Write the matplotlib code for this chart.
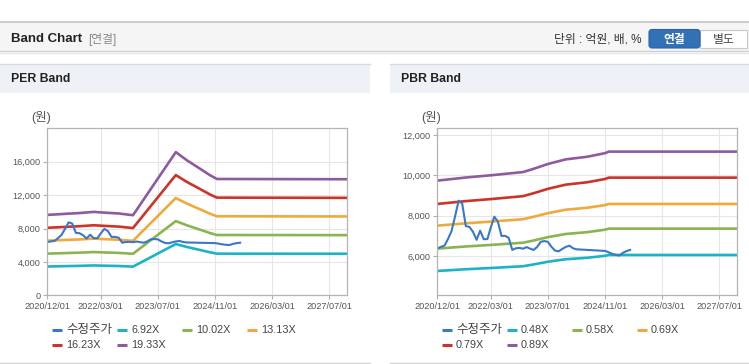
import numpy as np
import pandas as pd
import matplotlib
matplotlib.use('Agg')
import matplotlib.pyplot as plt
import matplotlib.dates as mdates
from matplotlib.patches import Rectangle, FancyBboxPatch
from matplotlib.ticker import FuncFormatter

plt.rcParams['font.family'] = ['Liberation Sans', 'Noto Sans CJK KR', 'DejaVu Sans']

# ---- data ----
price_dates = pd.date_range('2020-12-01', '2025-06-01', freq='MS')
price = [6380, 6450, 6520, 6830, 7230, 7950, 8740, 8600, 7480, 7440, 7200, 6800,
         7255, 6830, 6840, 7400, 7950, 7700, 6990, 7000, 6900, 6300, 6380, 6400,
         6360, 6440, 6360, 6300, 6450, 6700, 6740, 6700, 6450, 6264, 6230, 6350,
         6450, 6510, 6380, 6330, 6320, 6310, 6300, 6290, 6280, 6270, 6260, 6248,
         6180, 6100, 6050, 6017, 6160, 6240, 6300]

per_dates = pd.to_datetime(['2020-12-01', '2021-03-01', '2021-06-01', '2021-09-01',
                            '2022-01-01', '2022-04-01', '2022-08-01', '2022-12-01',
                            '2023-12-01', '2024-03-01', '2024-07-01', '2024-09-15',
                            '2024-11-15', '2027-12-01'])
per_labels = ['6.92X', '10.02X', '13.13X', '16.23X', '19.33X']
per_bands = [
    [3448, 3473, 3501, 3526, 3576, 3544, 3508, 3433, 6140, 5800, 5406, 5155, 4987, 4976],
    [4992, 5028, 5070, 5106, 5179, 5132, 5080, 4971, 8890, 8398, 7828, 7465, 7221, 7206],
    [6542, 6589, 6643, 6691, 6786, 6725, 6657, 6514, 11650, 11005, 10257, 9782, 9463, 9442],
    [8085, 8144, 8211, 8270, 8388, 8312, 8228, 8052, 14399, 13602, 12678, 12090, 11696, 11670],
    [9630, 9700, 9780, 9850, 9990, 9900, 9800, 9590, 17150, 16200, 15100, 14400, 13930, 13900],
]

pbr_dates = pd.to_datetime(['2020-12-01', '2021-08-01', '2022-03-01', '2022-12-01',
                            '2023-03-01', '2023-07-01', '2023-12-01', '2024-06-01',
                            '2024-11-01', '2024-12-01', '2027-12-01'])
pbr_labels = ['0.48X', '0.58X', '0.69X', '0.79X', '0.89X']
pbr_bands = [
    [5256, 5342, 5403, 5491, 5579, 5712, 5839, 5910, 6010, 6050, 6050],
    [6364, 6471, 6547, 6657, 6767, 6933, 7091, 7181, 7304, 7355, 7355],
    [7504, 7620, 7703, 7822, 7942, 8122, 8294, 8391, 8525, 8580, 8580],
    [8579, 8720, 8820, 8965, 9110, 9328, 9537, 9655, 9818, 9884, 9884],
    [9735, 9890, 10000, 10160, 10320, 10560, 10790, 10920, 11100, 11174, 11174],
]

x_ticks = pd.to_datetime(['2020-12-01', '2022-03-01', '2023-07-01',
                          '2024-11-01', '2026-03-01', '2027-07-01'])
x_range = pd.to_datetime(['2020-12-01', '2027-12-01'])

price_color = '#3a78c6'
band_colors = ['#1bb3c6', '#8cb352', '#f0a93c', '#cc3429', '#8d5b9f']

W, H = 749, 364
fig = plt.figure(figsize=(W / 100, H / 100), dpi=100)
fig.patch.set_facecolor('white')

bg = fig.add_axes([0, 0, 1, 1])
bg.set_xlim(0, W)
bg.set_ylim(H, 0)
bg.axis('off')

# page header
bg.add_patch(Rectangle((0, 22), W, 29, fc='#f5f5f5', ec='none'))
bg.plot([0, W], [22, 22], color='#c4c4c4', lw=1.2)
bg.plot([0, W], [51, 51], color='#d0d0d0', lw=1)
bg.plot([0, W], [52.5, 52.5], color='#e6e6e6', lw=1)
bg.text(11, 39, 'Band Chart', fontsize=9.5, fontweight='bold', color='#222', va='center')
bg.text(88, 39, '[연결]', fontsize=8.5, color='#888', va='center')
bg.text(641, 39, '단위 : 억원, 배, %', fontsize=8.5, color='#333', va='center', ha='right')
bg.add_patch(Rectangle((700, 29.5), 47, 18.5, fc='white', ec='#c8c8c8', lw=0.8))
bg.add_patch(FancyBboxPatch((649, 29.5), 51, 18.5, boxstyle='round,pad=0,rounding_size=3',
                            fc='#3271b6', ec='#2a62a3', lw=0.8))
bg.text(674.5, 40.5, '연결', fontsize=8.5, fontweight='bold', color='white', ha='center', va='center')
bg.text(723.5, 40.5, '별도', fontsize=8.5, color='#444', ha='center', va='center')

panels = [
    dict(x0=0, x1=370, title='PER Band', ax=(47.3, 128.3, 300, 167), unit_x=31,
         dates=per_dates, bands=per_bands, labels=per_labels, ylim=(0, 20000),
         yticks=[0, 4000, 8000, 12000, 16000], leg_x=52),
    dict(x0=390, x1=749, title='PBR Band', ax=(437.3, 128.3, 300, 167), unit_x=421,
         dates=pbr_dates, bands=pbr_bands, labels=pbr_labels, ylim=(4050, 12330),
         yticks=[6000, 8000, 10000, 12000], leg_x=442),
]

for p in panels:
    bg.add_patch(Rectangle((p['x0'], 64), p['x1'] - p['x0'], 29, fc='#eef2f7', ec='none'))
    bg.plot([p['x0'], p['x1']], [64, 64], color='#d6dbe3', lw=1)
    bg.plot([p['x0'], p['x1']], [362.5, 362.5], color='#d4d4d4', lw=1)
    bg.text(p['x0'] + 11, 79, p['title'], fontsize=8.8, fontweight='bold', color='#222', va='center')
    bg.text(p['unit_x'], 117, '(원)', fontsize=9, color='#555', va='center')

    x, y, w, h = p['ax']
    ax = fig.add_axes([x / W, 1 - (y + h) / H, w / W, h / H])
    ax.set_facecolor('white')
    for i, vals in enumerate(p['bands']):
        ax.plot(p['dates'], vals, color=band_colors[i], lw=1.9, solid_capstyle='butt')
    ax.plot(price_dates, price, color=price_color, lw=1.5)
    ax.set_xlim(x_range[0], x_range[1])
    ax.set_ylim(*p['ylim'])
    ax.set_xticks(x_ticks)
    ax.xaxis.set_major_formatter(mdates.DateFormatter('%Y/%m/%d'))
    ax.set_yticks(p['yticks'])
    ax.yaxis.set_major_formatter(FuncFormatter(lambda v, pos: f'{v:,.0f}'))
    ax.grid(True, color='#e6e6e6', lw=0.8)
    ax.set_axisbelow(True)
    ax.tick_params(labelsize=6.6, labelcolor='#555', color='#b0b0b0', length=3, width=0.8, pad=2)
    for s in ax.spines.values():
        s.set_color('#b4b4b4')
        s.set_linewidth(0.9)

    # legend
    items = [('수정주가', price_color)] + list(zip(p['labels'], band_colors))
    for k, (lab, col) in enumerate(items):
        lx = p['leg_x'] + (k % 4) * 65
        ly = 330 + (k // 4) * 14.5
        bg.plot([lx, lx + 10], [ly, ly], color=col, lw=2.2, solid_capstyle='butt')
        size = 9 if k == 0 else 7.8
        bg.text(lx + 14, ly, lab, fontsize=size, color='#444', va='center')

fig.savefig('out.png', dpi=100)
